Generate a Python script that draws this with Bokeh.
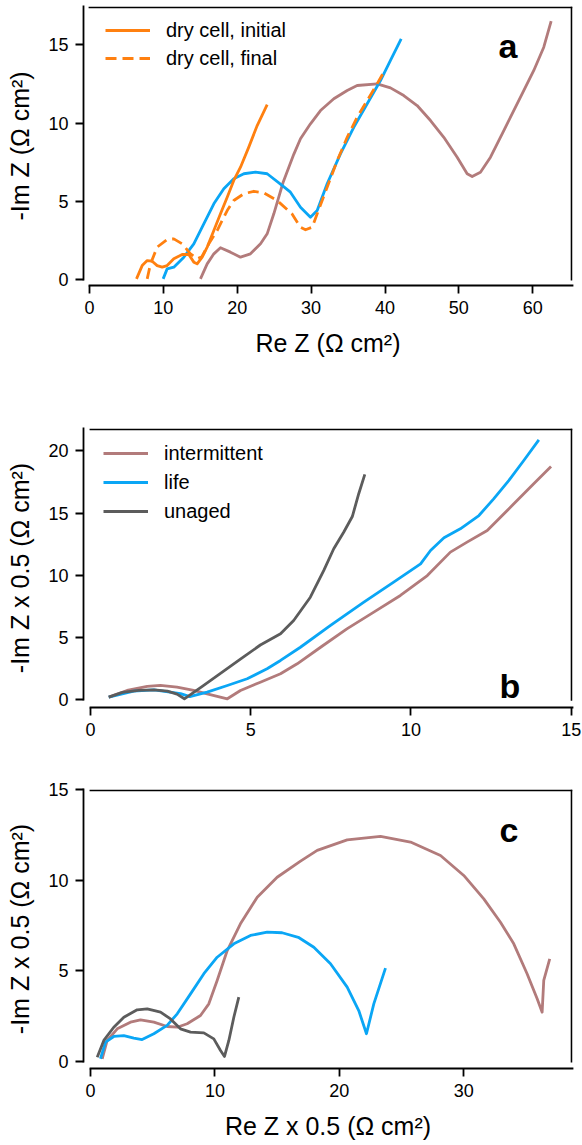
from bokeh.plotting import figure
from bokeh.layouts import column
from bokeh.models import Range1d, LinearAxis, FixedTicker, Legend, LegendItem, Label
from bokeh.embed import file_html
from bokeh.resources import INLINE

FONT = "Liberation Sans"
ORANGE = "#ff8010"
BLUE = "#0aa6f5"
BROWN = "#b27b7b"
GREY = "#5c5c5c"

# ---------------- data: panel a ----------------
a_init_x = [6.36, 7.13, 7.81, 8.48, 9.16, 9.84, 10.51, 11.41, 12.54, 13.44, 14.12, 14.57, 15.25,
            15.93, 16.83, 17.73, 18.64, 19.53, 20.44, 21.56, 22.70, 24.05]
a_init_y = [0.04, 0.89, 1.21, 1.17, 0.89, 0.79, 0.89, 1.32, 1.60, 1.60, 1.11, 1.00, 1.43,
            2.07, 3.13, 4.20, 5.26, 6.33, 7.18, 8.46, 9.84, 11.18]

a_final_x = [7.81, 8.26, 9.16, 10.51, 11.41, 12.55, 13.67, 14.57, 15.20, 16.15, 17.28, 18.64,
             19.53, 20.89, 22.24, 23.60, 25.40, 27.40, 28.56, 29.24, 30.14, 30.82, 32.17, 33.53,
             34.88, 36.23, 37.59, 38.94, 39.97]
a_final_y = [0.04, 1.00, 2.07, 2.56, 2.60, 2.28, 1.64, 1.32, 1.45, 2.28, 3.13, 4.41,
             5.05, 5.48, 5.64, 5.54, 5.05, 4.20, 3.34, 3.18, 3.34, 4.20, 5.90, 7.60,
             9.09, 10.37, 11.44, 12.51, 13.36]

a_life_x = [9.97, 10.51, 11.41, 12.77, 14.12, 15.47, 16.83, 18.18, 19.53, 20.89, 22.47, 24.05,
            25.85, 27.20, 28.56, 29.91, 30.82, 32.17, 33.97, 35.77, 37.59, 39.39, 40.74, 42.19]
a_life_y = [0.04, 0.68, 0.79, 1.43, 2.28, 3.56, 4.84, 5.80, 6.44, 6.76, 6.86, 6.76,
            6.10, 5.58, 4.62, 3.98, 4.41, 6.12, 8.03, 9.73, 11.23, 12.72, 14.00, 15.38]

a_int_x = [15.02, 15.93, 16.83, 17.73, 19.08, 20.44, 21.79, 23.15, 24.05, 24.95, 26.20, 27.65,
           28.56, 29.91, 31.27, 33.07, 34.88, 36.23, 38.94, 40.74, 42.54, 44.35, 46.16, 47.96,
           49.77, 51.12, 51.80, 52.92, 54.28, 56.08, 58.34, 60.14, 61.49, 62.49]
a_int_y = [0.04, 1.00, 1.64, 2.03, 1.75, 1.43, 1.64, 2.28, 2.92, 4.20, 6.20, 8.00,
           9.00, 9.95, 10.80, 11.55, 12.08, 12.40, 12.51, 12.25, 11.76, 11.12, 10.16, 9.09,
           7.82, 6.76, 6.58, 6.86, 7.82, 9.52, 11.65, 13.36, 14.85, 16.51]

# ---------------- data: panel b ----------------
b_int_x = [0.57, 1.14, 1.77, 2.18, 2.70, 3.22, 3.64, 4.27, 4.68, 5.30, 5.93, 6.45, 7.18, 8.00,
           8.84, 9.67, 10.51, 11.23, 11.75, 12.38, 13.21, 13.83, 14.37]
b_int_y = [0.21, 0.75, 1.07, 1.15, 1.01, 0.75, 0.48, 0.08, 0.75, 1.41, 2.09, 2.89, 4.22, 5.70,
           7.04, 8.38, 9.98, 11.86, 12.66, 13.60, 15.74, 17.35, 18.74]

b_life_x = [0.57, 1.35, 1.98, 2.81, 3.10, 3.40, 3.64, 4.27, 4.89, 5.51, 5.93, 6.55, 7.49, 8.53,
            9.46, 10.30, 10.61, 11.03, 11.54, 12.12, 12.58, 13.05, 13.52, 13.99]
b_life_y = [0.21, 0.69, 0.80, 0.50, 0.25, 0.45, 0.61, 1.15, 1.69, 2.49, 3.16, 4.22, 5.97, 7.84,
            9.45, 10.92, 11.99, 13.01, 13.73, 14.80, 16.14, 17.61, 19.22, 20.88]

b_unaged_x = [0.57, 1.00, 1.50, 1.98, 2.40, 2.70, 2.93, 3.50, 4.10, 4.70, 5.30, 5.93, 6.34,
              6.86, 7.28, 7.59, 7.90, 8.17, 8.37, 8.56]
b_unaged_y = [0.21, 0.60, 0.76, 0.80, 0.70, 0.45, 0.08, 1.10, 2.20, 3.30, 4.40, 5.30, 6.37,
              8.24, 10.39, 12.13, 13.46, 14.72, 16.55, 18.10]

# ---------------- data: panel c ----------------
c_int_x = [0.94, 1.34, 2.15, 3.21, 4.02, 5.09, 6.16, 6.97, 7.77, 8.84, 9.51, 10.18, 10.99, 12.05,
           13.40, 15.00, 16.88, 18.22, 20.63, 23.31, 25.72, 28.13, 30.00, 31.61, 32.95, 34.02,
           35.09, 35.90, 36.30, 36.43, 36.91]
c_int_y = [0.15, 1.16, 1.80, 2.17, 2.30, 2.17, 1.93, 1.89, 2.08, 2.54, 3.18, 4.47, 6.12, 7.59,
           9.06, 10.16, 11.05, 11.64, 12.22, 12.41, 12.10, 11.36, 10.26, 8.97, 7.68, 6.49,
           4.84, 3.46, 2.72, 4.47, 5.66]

c_life_x = [0.80, 1.21, 1.87, 2.68, 3.48, 4.15, 5.09, 6.16, 6.97, 8.04, 9.11, 10.18, 11.52,
            12.86, 14.20, 15.40, 16.70, 17.95, 19.29, 20.63, 21.56, 22.18, 22.77, 23.71]
c_life_y = [0.15, 1.07, 1.38, 1.43, 1.29, 1.21, 1.53, 1.99, 2.63, 3.73, 4.84, 5.75, 6.49,
            6.95, 7.13, 7.10, 6.85, 6.30, 5.39, 4.10, 2.81, 1.53, 3.18, 5.15]

c_unaged_x = [0.54, 1.07, 1.87, 2.68, 3.75, 4.56, 5.63, 6.43, 7.23, 8.04, 9.11, 9.91, 10.45,
              10.77, 11.12, 11.52, 11.92]
c_unaged_y = [0.24, 1.16, 1.89, 2.44, 2.85, 2.90, 2.72, 2.35, 1.80, 1.62, 1.58, 1.25, 0.61,
              0.28, 1.16, 2.44, 3.55]

# ticks
a_xticks = [0, 10, 20, 30, 40, 50, 60]
a_yticks = [0, 5, 10, 15]
b_xticks = [0, 5, 10, 15]
b_yticks = [0, 5, 10, 15, 20]
c_xticks = [0, 10, 20, 30]
c_yticks = [0, 5, 10, 15]

W = 582
FRAME_W = 489  # 582 - 83 - 10


def real_axis(ticks, bounds, label=None, label_standoff=12):
    return LinearAxis(
        ticker=FixedTicker(ticks=ticks), bounds=bounds,
        axis_line_width=1.8, axis_line_color="black", axis_line_cap="square",
        major_tick_line_width=1.8, major_tick_line_color="black",
        major_tick_out=8, major_tick_in=0, minor_tick_out=0, minor_tick_in=0,
        major_label_text_font=FONT, major_label_text_font_size="18px",
        major_label_text_color="black", major_label_standoff=7,
        axis_label=label, axis_label_text_font=FONT, axis_label_text_font_size="25px",
        axis_label_text_font_style="normal", axis_label_text_color="black",
        axis_label_standoff=label_standoff)


def make_fig(height, xr, yr, top, bottom, xticks, yticks, xlabel, ylabel):
    p = figure(width=W, height=height, x_range=Range1d(*xr), y_range=Range1d(*yr),
               output_backend="svg", toolbar_location=None,
               x_axis_location=None, y_axis_location=None,
               min_border_left=83, min_border_right=10,
               min_border_top=top, min_border_bottom=bottom,
               outline_line_color=None,
               background_fill_color="white", border_fill_color="white")
    p.grid.visible = False
    p.add_layout(real_axis(xticks, (0, xr[1]), xlabel), "below")
    p.add_layout(real_axis(yticks, (0, yr[1]), ylabel, 11), "left")
    # top and right box edges, derived from the ranges, kept just inside the frame
    frame_h = height - top - bottom
    y_top = yr[1] - 0.9 * (yr[1] - yr[0]) / frame_h
    x_right = xr[1] - 0.9 * (xr[1] - xr[0]) / FRAME_W
    p.segment(x0=[0, x_right], y0=[y_top, 0], x1=[x_right, x_right], y1=[y_top, y_top],
              line_color="black", line_width=1.8, line_cap="square")
    return p


def add_line(p, x, y, color, dash="solid"):
    return p.line(x, y, line_color=color, line_width=2.8, line_dash=dash, line_join="round")


def make_legend(items, loc, spacing):
    return Legend(items=items, location=loc, orientation="vertical",
                  label_text_font=FONT, label_text_font_size="20px", label_text_color="black",
                  glyph_width=45, glyph_height=24, label_height=24, label_standoff=16,
                  spacing=spacing, padding=0, margin=0,
                  border_line_color=None, background_fill_alpha=0)


def letter(p, txt, x, y):
    p.add_layout(Label(x=x, y=y, x_units="screen", y_units="screen", text=txt,
                       text_font=FONT, text_font_size="34px", text_font_style="bold",
                       text_color="black", text_align="left", text_baseline="alphabetic"))


# ---------------- panel a ----------------
pa = make_fig(380, (-0.812, 65.38), (-0.383, 17.45), 6, 95, a_xticks, a_yticks,
              "Re Z (Ω cm²)", "-Im Z (Ω cm²)")
add_line(pa, a_int_x, a_int_y, BROWN)
add_line(pa, a_life_x, a_life_y, BLUE)
r_fin = add_line(pa, a_final_x, a_final_y, ORANGE, "11 6")
r_init = add_line(pa, a_init_x, a_init_y, ORANGE)
pa.add_layout(make_legend([LegendItem(label="dry cell, initial", renderers=[r_init]),
                           LegendItem(label="dry cell, final", renderers=[r_fin])],
                          (22, 215), 4))
letter(pa, "a", 415, 240)

# ---------------- panel b ----------------
pb = make_fig(365, (-0.218, 15.04), (-0.62, 21.79), 48, 38, b_xticks, b_yticks,
              None, "-Im Z x 0.5 (Ω cm²)")
rb1 = add_line(pb, b_int_x, b_int_y, BROWN)
rb2 = add_line(pb, b_life_x, b_life_y, BLUE)
rb3 = add_line(pb, b_unaged_x, b_unaged_y, GREY)
pb.add_layout(make_legend([LegendItem(label="intermittent", renderers=[rb1]),
                           LegendItem(label="life", renderers=[rb2]),
                           LegendItem(label="unaged", renderers=[rb3])],
                          (20, 184), 5))
letter(pb, "b", 416, 22)

# ---------------- panel c ----------------
pc = make_fig(400, (-0.5626, 38.74), (-0.386, 15.0), 44, 77, c_xticks, c_yticks,
              "Re Z x 0.5 (Ω cm²)", "-Im Z x 0.5 (Ω cm²)")
add_line(pc, c_int_x, c_int_y, BROWN)
add_line(pc, c_life_x, c_life_y, BLUE)
add_line(pc, c_unaged_x, c_unaged_y, GREY)
letter(pc, "c", 416, 239)

layout = column(pa, pb, pc, spacing=0)
open("out.html", "w").write(file_html(layout, INLINE))
